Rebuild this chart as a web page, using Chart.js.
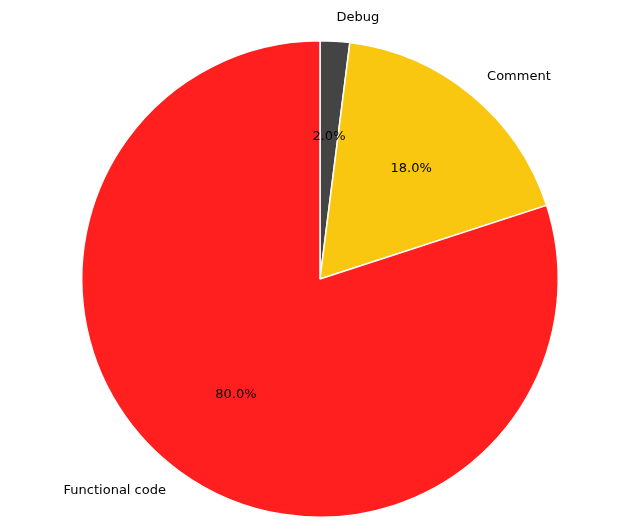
<!DOCTYPE html>
<html>
<head>
<meta charset="utf-8">
<script src="https://cdn.jsdelivr.net/npm/chart.js@4"></script>
<style>
  html, body { margin: 0; padding: 0; background: #fff; }
  #wrap { width: 640px; height: 529px; }
</style>
</head>
<body>
<div id="wrap"><canvas id="pie"></canvas></div>
<script>
const labels = ['Debug', 'Comment', 'Functional code'];
const values = [2, 18, 80];
const colors = ['#444444', '#f9c710', '#ff1f1f'];

// draws labels the matplotlib way: name at 1.1 r, percent at 0.6 r
const pieLabels = {
  id: 'pieLabels',
  afterDatasetsDraw(chart) {
    const ctx = chart.ctx;
    const total = values.reduce((a, b) => a + b, 0);
    const arcs = chart.getDatasetMeta(0).data;
    ctx.save();
    ctx.font = '13px "DejaVu Sans"';
    ctx.fillStyle = '#000';
    arcs.forEach((arc, i) => {
      const p = arc.getProps(['x', 'y', 'startAngle', 'endAngle', 'outerRadius']);
      const mid = (p.startAngle + p.endAngle) / 2;
      const r = p.outerRadius;
      const lx = p.x + Math.cos(mid) * r * 1.1;
      const ly = p.y + Math.sin(mid) * r * 1.1;
      ctx.textBaseline = 'middle';
      ctx.textAlign = lx >= p.x ? 'left' : 'right';
      ctx.fillText(labels[i], lx, ly);
      ctx.textAlign = 'center';
      const px = p.x + Math.cos(mid) * r * 0.6;
      const py = p.y + Math.sin(mid) * r * 0.6;
      ctx.fillText((values[i] / total * 100).toFixed(1) + '%', px, py);
    });
    ctx.restore();
  }
};

new Chart(document.getElementById('pie').getContext('2d'), {
  type: 'pie',
  data: {
    labels: labels,
    datasets: [{
      data: values,
      backgroundColor: colors,
      borderColor: '#ffffff',
      borderWidth: 1.5
    }]
  },
  options: {
    responsive: true,
    maintainAspectRatio: false,
    animation: false,
    layout: { padding: { top: 40, bottom: 11, left: 81, right: 81 } },
    plugins: {
      legend: { display: false },
      tooltip: { enabled: false }
    }
  },
  plugins: [pieLabels]
});
</script>
</body>
</html>
